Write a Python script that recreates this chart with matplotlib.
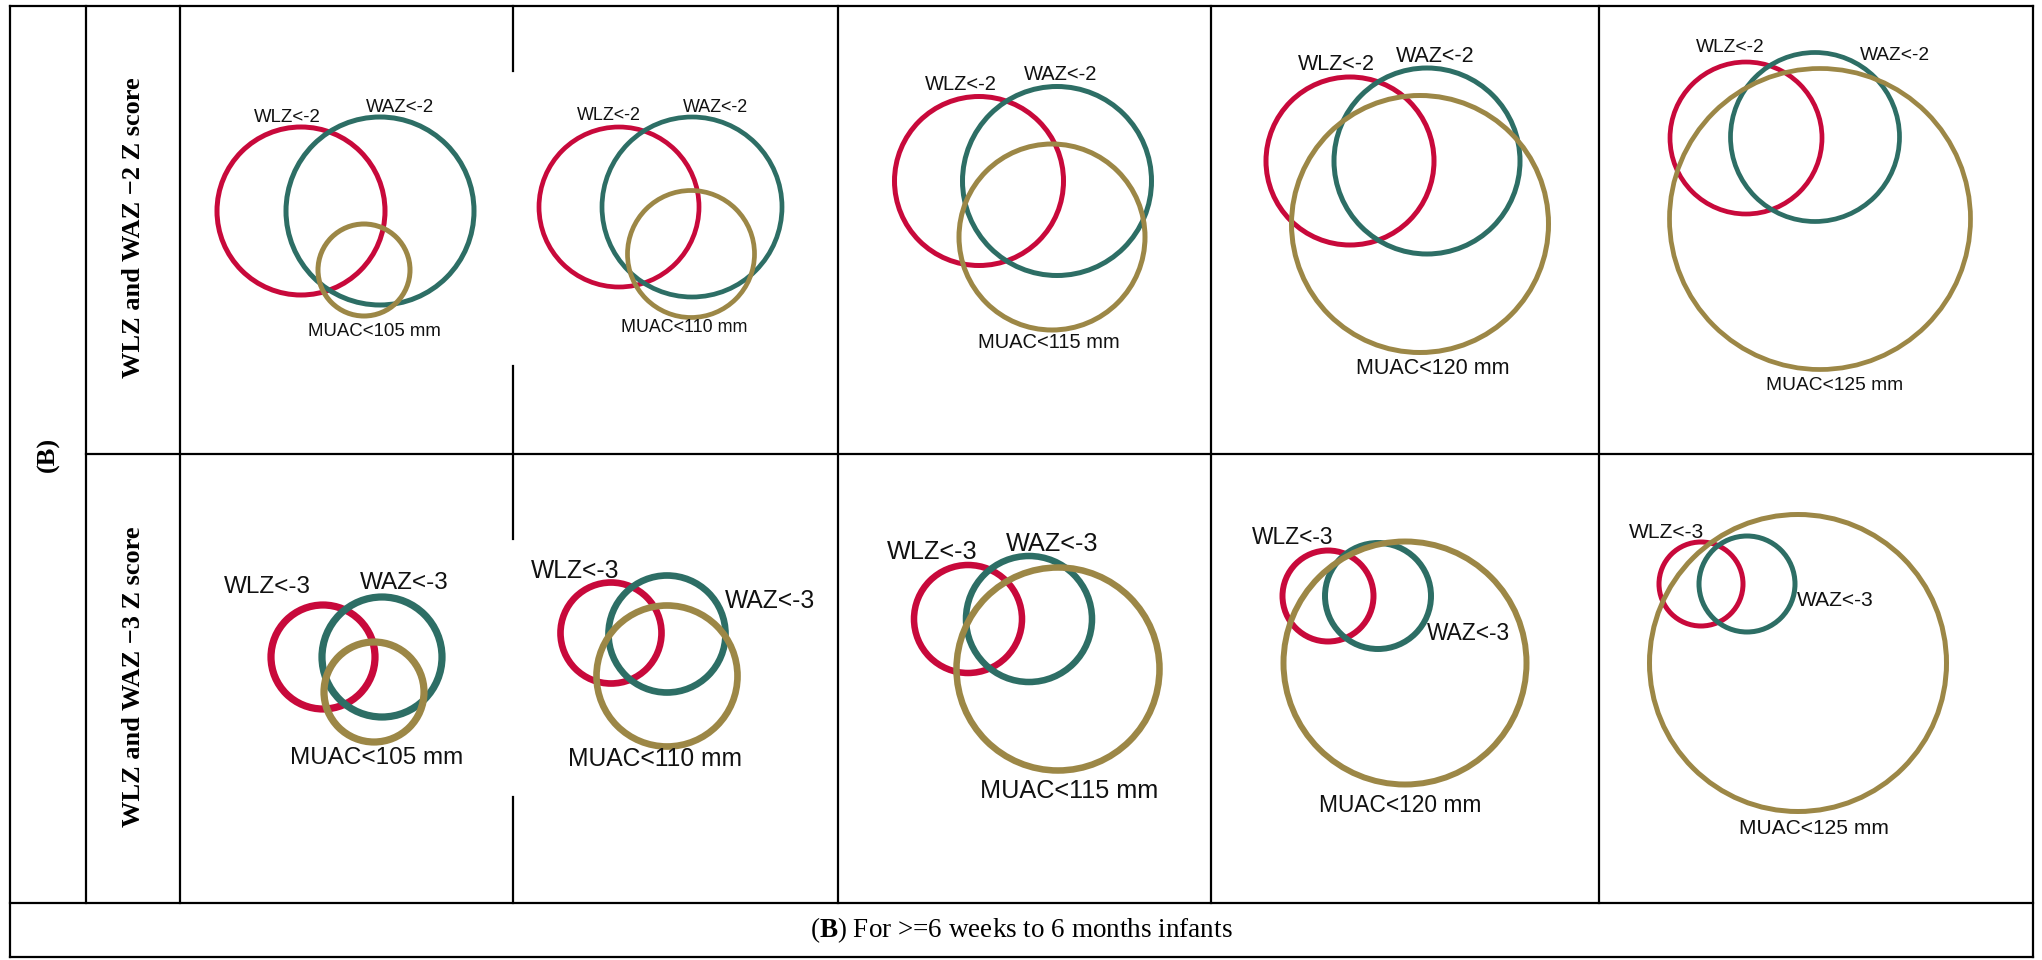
import matplotlib
matplotlib.use("Agg")
import matplotlib.pyplot as plt
from matplotlib.patches import Circle

plt.rcParams['mathtext.fontset'] = 'custom'
plt.rcParams['mathtext.rm'] = 'Liberation Serif'
plt.rcParams['mathtext.bf'] = 'Liberation Serif:bold'

# ---------------- data ----------------
muac_cutoffs = [105, 110, 115, 120, 125]
z_thresholds = [-2, -3]
row_labels = ["WLZ and WAZ \u22122 Z score", "WLZ and WAZ \u22123 Z score"]
group_label = "(B)"
caption = r"($\mathbf{B}$) For >=6 weeks to 6 months infants"

# circle centres / diameters (figure pixel space), rows = thresholds, cols = MUAC cut-offs
wlz_x = [[301, 619, 979, 1350, 1746], [323, 611, 968, 1328, 1701]]
wlz_y = [[211, 207, 181, 161, 138], [657, 633, 619, 596, 584]]
wlz_d = [[168, 160, 169, 168, 152], [104, 101, 108, 91, 84]]

waz_x = [[380, 692, 1057, 1427, 1815], [382, 667, 1029, 1378, 1747]]
waz_y = [[211, 207, 181, 161, 137], [657, 634, 619, 596, 584]]
waz_d = [[188, 180, 189, 186, 169], [120, 117, 126, 106, 96]]

muac_x = [[364, 691, 1052, 1420, 1820], [374, 667, 1058, 1405, 1798]]
muac_y = [[270, 254, 237, 224, 219], [692, 676, 669, 663, 663]]
muac_d = [[92, 127, 186, 257, 301], [100, 141, 203, 243, 297]]

# label anchor points
wlz_lx = [[287, 609, 961, 1336, 1730], [267, 575, 932, 1293, 1667]]
wlz_ly = [[117, 116, 85, 65, 48], [587, 571, 552, 538, 532]]
waz_lx = [[400, 715, 1061, 1435, 1895], [404, 770, 1052, 1468, 1835]]
waz_ly = [[108, 108, 74, 57, 55], [583, 601, 544, 633, 600]]
muac_lx = [[374, 684, 1049, 1433, 1835], [377, 655, 1069, 1400, 1814]]
muac_ly = [[332, 328, 343, 368, 385], [758, 759, 791, 806, 829]]
label_pt = [[13.4, 12.9, 14.5, 15.5, 13.8], [17.5, 17.7, 18.2, 16.4, 15.1]]
ring_pt = [[3.6, 3.4, 3.6, 3.6, 3.4], [5.2, 4.8, 4.7, 4.3, 3.6]]

# ---------------- style ----------------
RED = '#C8093B'
TEAL = '#2D6E65'
GOLD = '#9C8746'
W, H = 2042, 960

fig = plt.figure(figsize=(W / 100, H / 100), dpi=100)
ax = fig.add_axes([0, 0, 1, 1])
ax.set_xlim(0, W)
ax.set_ylim(H, 0)
ax.axis('off')

# table grid
x_left, x_grp, x_lab, x_right = 10, 86, 180, 2033
col_edges = [180, 513, 838, 1211, 1599, 2033]
y_top, y_mid, y_bot_rows, y_bottom = 6, 454, 903, 957
lw = 1.6
def seg(x0, y0, x1, y1):
    ax.plot([x0, x1], [y0, y1], color='black', lw=lw, solid_capstyle='projecting', zorder=5)

seg(x_left, y_top, x_right, y_top)
seg(x_left, y_bottom, x_right, y_bottom)
seg(x_left, y_top, x_left, y_bottom)
seg(x_right, y_top, x_right, y_bottom)
seg(x_left, y_bot_rows, x_right, y_bot_rows)
seg(x_grp, y_mid, x_right, y_mid)
seg(x_grp, y_top, x_grp, y_bot_rows)
seg(x_lab, y_top, x_lab, y_bot_rows)
for xe in col_edges[2:-1]:
    seg(xe, y_top, xe, y_bot_rows)
# column 2 left edge partly hidden by the pasted diagram images
for (a, b) in [(y_top, 71), (366, 539), (797, y_bot_rows)]:
    seg(col_edges[1], a, col_edges[1], b)

# diagrams
for r in range(len(z_thresholds)):
    t = z_thresholds[r]
    for c in range(len(muac_cutoffs)):
        for (xs, ys, ds, col) in [(wlz_x, wlz_y, wlz_d, RED),
                                  (waz_x, waz_y, waz_d, TEAL),
                                  (muac_x, muac_y, muac_d, GOLD)]:
            ax.add_patch(Circle((xs[r][c], ys[r][c]), ds[r][c] / 2, fill=False,
                                edgecolor=col, lw=ring_pt[r][c], zorder=3))
        fs = label_pt[r][c]
        kw = dict(ha='center', va='center', fontsize=fs, family='Liberation Sans',
                  color='#111111', zorder=4)
        ax.text(wlz_lx[r][c], wlz_ly[r][c], f"WLZ<{t}", **kw)
        ax.text(waz_lx[r][c], waz_ly[r][c], f"WAZ<{t}", **kw)
        ax.text(muac_lx[r][c], muac_ly[r][c], f"MUAC<{muac_cutoffs[c]} mm", **kw)

# row labels
serif = 'Liberation Serif'
row_cy = [228, 677]
for lab, cy in zip(row_labels, row_cy):
    ax.text((x_grp + x_lab) / 2, cy, lab, rotation=90, ha='center', va='center',
            fontsize=19, fontweight='bold', family=serif)
ax.text((x_left + x_grp) / 2, y_mid, group_label, rotation=90, ha='center', va='center',
        fontsize=19, fontweight='bold', family=serif)

# caption
ax.text((x_left + x_right) / 2, 930, caption, ha='center', va='center',
        fontsize=19.5, family=serif)

fig.savefig('out.png', dpi=100)
